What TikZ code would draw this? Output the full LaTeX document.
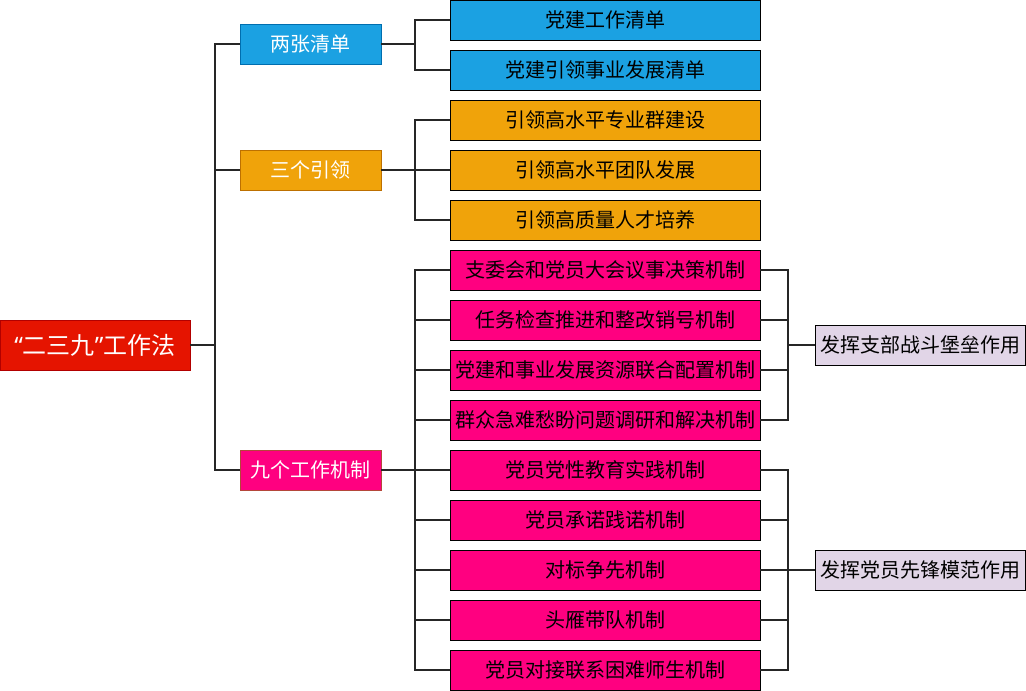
\documentclass[tikz,border=0pt]{standalone}
\usepackage{fontspec}
\setmainfont{Noto Sans CJK SC}
\newfontfamily\quotefont{Noto Sans}
\usetikzlibrary{positioning}
\definecolor{rootred}{HTML}{E51400}
\definecolor{rootline}{HTML}{B20000}
\definecolor{topicblue}{HTML}{1BA1E2}
\definecolor{blueline}{HTML}{006EAF}
\definecolor{topicorange}{HTML}{F0A30A}
\definecolor{orangeline}{HTML}{BD7000}
\definecolor{topicpink}{HTML}{FF0080}
\definecolor{pinkline}{HTML}{B5463A}
\definecolor{rolebg}{HTML}{E1D5E7}

\begin{document}
\begin{tikzpicture}[
        x=1pt, y=-1pt,
        node distance=10pt and 34pt,
        box/.style={rectangle, draw, line width=0.8pt, inner sep=0pt, outer sep=0pt,
                    minimum height=40pt, align=center,
                    font=\fontsize{20pt}{24pt}\selectfont},
        topic/.style={box, minimum width=141pt, text=white},
        item/.style={box, minimum width=310pt, draw=black},
        role/.style={box, minimum width=210pt, fill=rolebg, draw=black},
        link/.style={line width=1.6pt, draw=black!85},
    ]
        \useasboundingbox (0,0) rectangle (1026,691);

        \node[box, minimum width=190pt, minimum height=50pt, fill=rootred, draw=rootline,
              text=white, font=\fontsize{24pt}{28pt}\selectfont] (root) at (95,345)
              {{\quotefont “}二三九{\quotefont ”}工作法};

        \node[topic, fill=topicblue, draw=blueline] (two) at (310.5,44) {两张清单};
        \node[topic, fill=topicorange, draw=orangeline] (three) at (310.5,170) {三个引领};
        \node[topic, fill=topicpink, draw=pinkline] (nine) at (310.5,470) {九个工作机制};

        \node[item, fill=topicblue] (t1) at (605,20) {党建工作清单};
        \node[item, fill=topicblue, below=of t1] (t2) {党建引领事业发展清单};
        \node[item, fill=topicorange, below=of t2] (g1) {引领高水平专业群建设};
        \node[item, fill=topicorange, below=of g1] (g2) {引领高水平团队发展};
        \node[item, fill=topicorange, below=of g2] (g3) {引领高质量人才培养};
        \node[item, fill=topicpink, below=of g3] (m1) {支委会和党员大会议事决策机制};
        \node[item, fill=topicpink, below=of m1] (m2) {任务检查推进和整改销号机制};
        \node[item, fill=topicpink, below=of m2] (m3) {党建和事业发展资源联合配置机制};
        \node[item, fill=topicpink, below=of m3] (m4) {群众急难愁盼问题调研和解决机制};
        \node[item, fill=topicpink, below=of m4] (m5) {党员党性教育实践机制};
        \node[item, fill=topicpink, below=of m5] (m6) {党员承诺践诺机制};
        \node[item, fill=topicpink, below=of m6] (m7) {对标争先机制};
        \node[item, fill=topicpink, below=of m7] (m8) {头雁带队机制};
        \node[item, fill=topicpink, below=of m8] (m9) {党员对接联系困难师生机制};

        \node[role] (branch) at (920,345) {发挥支部战斗堡垒作用};
        \node[role] (member) at (920,570) {发挥党员先锋模范作用};

        % root to topics
        \draw[link] (root.east) -- ++(25,0) |- (two.west);
        \draw[link] (root.east) -- ++(25,0) |- (three.west);
        \draw[link] (root.east) -- ++(25,0) |- (nine.west);

        % topics to items
        \draw[link] (two.east) -- ++(34,0) |- (t1.west);
        \draw[link] (two.east) -- ++(34,0) |- (t2.west);
        \draw[link] (three.east) -- ++(34,0) |- (g1.west);
        \draw[link] (three.east) -- ++(34,0) |- (g2.west);
        \draw[link] (three.east) -- ++(34,0) |- (g3.west);
        \draw[link] (nine.east) -- ++(34,0) |- (m1.west);
        \draw[link] (nine.east) -- ++(34,0) |- (m2.west);
        \draw[link] (nine.east) -- ++(34,0) |- (m3.west);
        \draw[link] (nine.east) -- ++(34,0) |- (m4.west);
        \draw[link] (nine.east) -- ++(34,0) |- (m5.west);
        \draw[link] (nine.east) -- ++(34,0) |- (m6.west);
        \draw[link] (nine.east) -- ++(34,0) |- (m7.west);
        \draw[link] (nine.east) -- ++(34,0) |- (m8.west);
        \draw[link] (nine.east) -- ++(34,0) |- (m9.west);

        % items to roles
        \draw[link] (m1.east) -- ++(28,0) |- (branch.west);
        \draw[link] (m2.east) -- ++(28,0) |- (branch.west);
        \draw[link] (m3.east) -- ++(28,0) |- (branch.west);
        \draw[link] (m4.east) -- ++(28,0) |- (branch.west);
        \draw[link] (m5.east) -- ++(28,0) |- (member.west);
        \draw[link] (m6.east) -- ++(28,0) |- (member.west);
        \draw[link] (m7.east) -- ++(28,0) |- (member.west);
        \draw[link] (m8.east) -- ++(28,0) |- (member.west);
        \draw[link] (m9.east) -- ++(28,0) |- (member.west);
    \end{tikzpicture}
\end{document}
